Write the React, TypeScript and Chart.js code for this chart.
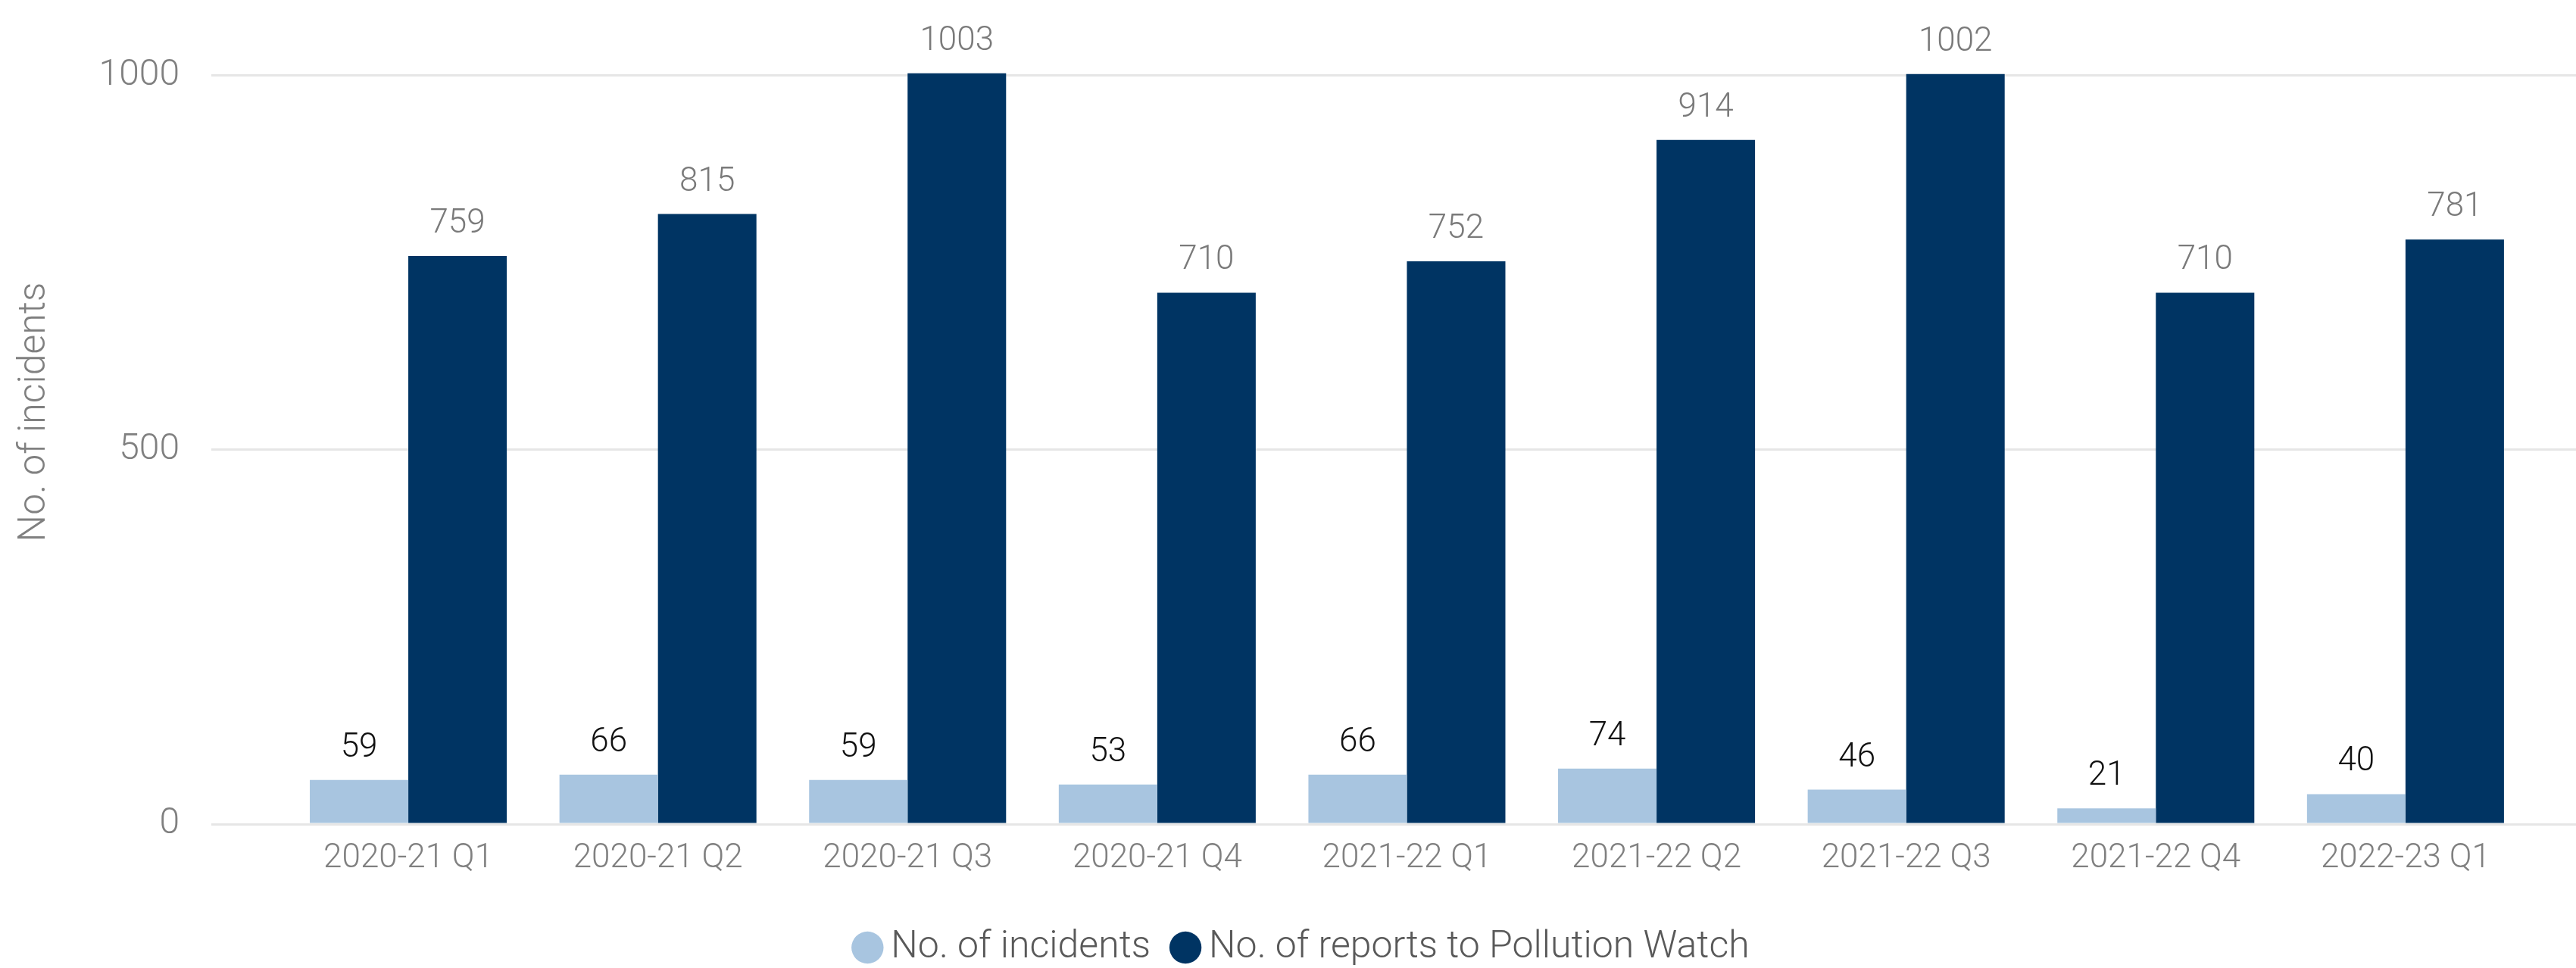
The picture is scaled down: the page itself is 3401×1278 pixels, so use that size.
import React, { useEffect, useRef } from 'react';
import { Chart, registerables } from 'chart.js';

Chart.register(...registerables);

const categories = [
  '2020-21 Q1', '2020-21 Q2', '2020-21 Q3', '2020-21 Q4',
  '2021-22 Q1', '2021-22 Q2', '2021-22 Q3', '2021-22 Q4', '2022-23 Q1',
];
const incidents = [59, 66, 59, 53, 66, 74, 46, 21, 40];
const reports = [759, 815, 1003, 710, 752, 914, 1002, 710, 781];
const yTicks = [0, 500, 1000];
const seriesNames = ['No. of incidents', 'No. of reports to Pollution Watch'];
const yTitle = 'No. of incidents';

const LIGHT = '#A8C5E0';
const DARK = '#003463';
const FONT = 'Roboto, "Open Sans", sans-serif';

const valueLabels = {
  id: 'valueLabels',
  afterDatasetsDraw(chart: any) {
    const ctx = chart.ctx;
    chart.data.datasets.forEach((ds: any, di: number) => {
      const meta = chart.getDatasetMeta(di);
      const values = di === 0 ? incidents : reports;
      meta.data.forEach((el: any, i: number) => {
        ctx.save();
        ctx.font = `300 44px ${FONT}`;
        ctx.fillStyle = di === 0 ? '#111111' : '#7a7a7a';
        ctx.textAlign = 'center';
        ctx.textBaseline = 'alphabetic';
        ctx.fillText(String(values[i]), el.x, el.y - 31);
        ctx.restore();
      });
    });
  },
};

const legendShift = {
  id: 'legendShift',
  afterLayout(chart: any) {
    const lg = chart.legend;
    if (!lg) return;
    lg.left += 24;
    lg.right += 24;
    lg.top += 8;
    lg.bottom += 8;
  },
};

export default function App() {
  const ref = useRef<HTMLCanvasElement | null>(null);

  useEffect(() => {
    document.body.style.margin = '0';
    const canvas = ref.current;
    if (!canvas) return;
    const chart = new Chart(canvas, {
      type: 'bar',
      data: {
        datasets: [
          {
            label: seriesNames[0],
            data: categories.map((_, i) => ({ x: i, y: incidents[i] })),
            backgroundColor: LIGHT,
            borderWidth: 0,
          },
          {
            label: seriesNames[1],
            data: categories.map((_, i) => ({ x: i, y: reports[i] })),
            backgroundColor: DARK,
            borderWidth: 0,
          },
        ],
      },
      options: {
        responsive: false,
        animation: false,
        devicePixelRatio: 1,
        layout: { padding: 0 },
        datasets: {
          bar: { categoryPercentage: 0.789, barPercentage: 1 },
        },
        scales: {
          x: {
            type: 'linear',
            offset: false,
            min: -0.789,
            max: 8.683,
            grid: { display: false, drawTicks: false },
            border: { display: false },
            afterBuildTicks: (scale: any) => {
              scale.ticks = categories.map((_, i) => ({ value: i }));
            },
            afterFit: (scale: any) => {
              scale.height = 90;
              scale.paddingLeft = 0;
              scale.paddingRight = 0;
            },
            ticks: {
              autoSkip: false,
              maxRotation: 0,
              minRotation: 0,
              padding: 20,
              color: '#808080',
              font: { family: FONT, size: 44, weight: '300' },
              callback: (v: any) => categories[v] ?? '',
            },
          },
          y: {
            min: 0,
            max: 1101,
            afterBuildTicks: (scale: any) => {
              scale.ticks = yTicks.map((v) => ({ value: v }));
            },
            afterFit: (scale: any) => {
              scale.width = 279;
              scale.paddingTop = 0;
              scale.paddingBottom = 0;
            },
            grid: { color: '#e6e6e6', lineWidth: 3, drawTicks: false },
            border: { display: false },
            ticks: {
              padding: 42,
              color: '#808080',
              font: { family: FONT, size: 48, weight: '300' },
              callback: (v: any) => String(v),
            },
            title: {
              display: true,
              text: yTitle,
              color: '#808080',
              padding: { top: 16, bottom: 0 },
              font: { family: FONT, size: 50, weight: '300' },
            },
          },
        },
        plugins: {
          legend: {
            display: true,
            position: 'bottom',
            labels: {
              usePointStyle: true,
              pointStyle: 'circle',
              boxWidth: 12,
              boxHeight: 30,
              padding: 40,
              color: '#595959',
              font: { family: FONT, size: 50, weight: '300' },
            },
          },
          tooltip: { enabled: false },
        },
      },
      plugins: [valueLabels, legendShift],
    });
    return () => chart.destroy();
  }, []);

  return (
    <div style={{ position: 'absolute', left: 0, top: 0, width: 3401, height: 1278 }}>
      <canvas ref={ref} width={3401} height={1278} style={{ display: 'block' }} />
    </div>
  );
}
